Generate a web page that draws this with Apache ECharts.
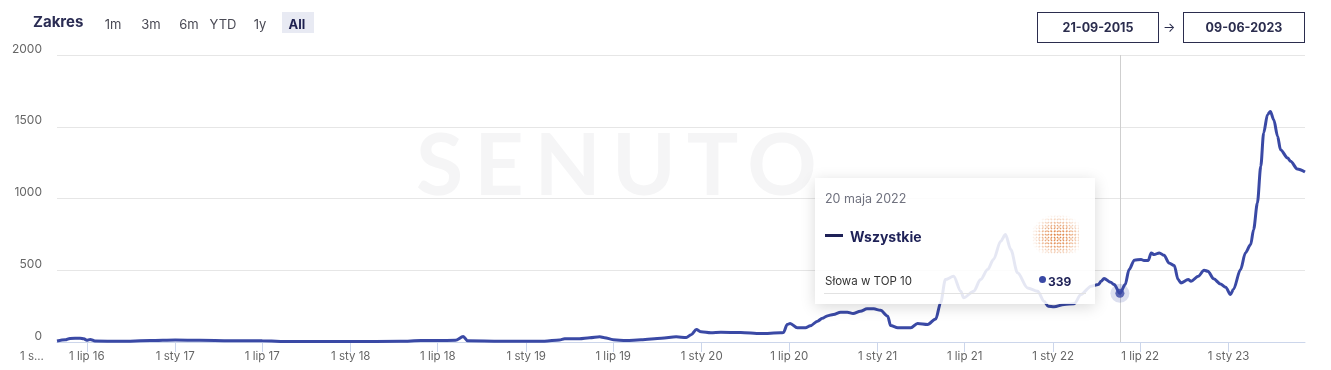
<!DOCTYPE html>
<html><head><meta charset="utf-8">
<script src="https://cdn.jsdelivr.net/npm/echarts@6/dist/echarts.min.js"></script>
<style>
html,body{margin:0;padding:0;background:#fff;}
#wrap{position:relative;width:1331px;height:370px;overflow:hidden;font-family:Inter,'Open Sans',sans-serif;}
#wm{position:absolute;left:416px;top:110px;font:700 86px Lato,sans-serif;letter-spacing:11px;color:#f5f5f6;z-index:0;white-space:nowrap;}
#chart{position:absolute;left:0;top:0;width:1331px;height:370px;z-index:1;}
.hd{position:absolute;z-index:3;white-space:nowrap;}
#zak{left:33px;top:12px;font-weight:700;font-size:15px;color:#2b2d54;}
.btn{top:15px;font-size:13px;color:#4a4a55;line-height:18px;transform:translateX(-50%);}
#allbox{left:282px;top:12px;width:32px;height:21px;background:#e8eaf3;z-index:2;position:absolute;}
.db{top:12px;width:120px;height:29px;border:1px solid #2b2d4e;box-sizing:content-box;text-align:center;line-height:29px;font-weight:700;font-size:12.5px;color:#2b2d4e;}
#arr{left:1163px;top:19px;font-size:13px;color:#2b2d4e;}
</style></head>
<body>
<div id="wrap">
  <div id="wm">SENUTO</div>
  <div id="chart"></div>
  <div id="hdr"></div>
</div>
<script>
// ---- data ----
const dates = ['2016-04-30','2016-05-17','2016-05-27','2016-06-17','2016-06-25','2016-07-01','2016-07-08','2016-07-18','2016-09-08','2016-11-10',
'2017-01-01','2017-02-21','2017-04-25','2017-07-01','2017-08-27','2018-01-01','2018-04-15','2018-05-27','2018-07-01','2018-08-07',
'2018-08-23','2018-09-01','2018-11-09','2019-01-01','2019-02-08','2019-03-11','2019-03-22','2019-04-22','2019-05-13','2019-06-03',
'2019-06-13','2019-07-01','2019-07-28','2019-08-28','2019-10-09','2019-11-09','2019-11-30','2019-12-10','2019-12-21','2019-12-31',
'2020-01-20','2020-02-10','2020-03-22','2020-05-03','2020-06-13','2020-06-19','2020-06-27','2020-07-03','2020-07-18','2020-08-04',
'2020-08-14','2020-08-29','2020-09-08','2020-09-18','2020-10-01','2020-10-16','2020-10-30','2020-11-11','2020-11-26','2020-12-10',
'2020-12-24','2021-01-07','2021-01-22','2021-01-28','2021-02-12','2021-03-11','2021-03-25','2021-04-15','2021-05-02','2021-05-12',
'2021-05-22','2021-06-08','2021-06-23','2021-06-29','2021-07-20','2021-08-03','2021-08-18','2021-08-30','2021-09-14','2021-09-24',
'2021-10-05','2021-10-19','2021-11-09','2021-11-30','2021-12-13','2021-12-22','2022-01-03','2022-01-24','2022-02-14','2022-02-28',
'2022-03-21','2022-04-05','2022-04-11','2022-04-17','2022-05-01','2022-05-08','2022-05-20','2022-05-31','2022-06-08','2022-06-19',
'2022-07-03','2022-07-09','2022-07-18','2022-07-24','2022-07-30','2022-08-10','2022-08-20','2022-08-30','2022-09-10','2022-09-18',
'2022-09-24','2022-10-09','2022-10-15','2022-10-30','2022-11-11','2022-11-19','2022-12-01','2022-12-15','2022-12-26','2023-01-05',
'2023-01-11','2023-01-26','2023-02-05','2023-02-16','2023-02-22','2023-03-02','2023-03-09','2023-03-15','2023-03-23','2023-03-29',
'2023-04-05','2023-04-13','2023-04-19','2023-05-04','2023-05-10','2023-05-24','2023-06-09'];
const values = [7,15,25,27,22,12,18,7,5,10,
14,12,9,8,4,3,5,10,10,12,
38,8,5,5,6,14,22,22,29,36,
30,16,10,16,26,36,31,50,87,71,
64,68,66,59,64,66,122,129,99,99,
113,145,165,182,192,208,208,198,214,231,
231,221,180,115,99,99,129,122,161,273,
435,458,354,308,354,435,505,575,702,749,
644,482,377,354,284,249,245,261,267,331,
389,400,423,442,416,400,339,400,505,570,
575,568,568,621,609,621,604,551,533,435,
412,435,423,458,500,493,440,405,382,331,
366,505,621,679,783,969,1224,1457,1584,1607,
1549,1433,1340,1282,1259,1206,1185];
const tickDates = ['2016-07-01','2017-01-01','2017-07-01','2018-01-01','2018-07-01','2019-01-01','2019-07-01',
'2020-01-01','2020-07-01','2021-01-01','2021-07-01','2022-01-01','2022-07-01','2023-01-01'];
const firstCutLabel = '1 s...';
const yMax = 2000, yStep = 500;
const monthShort = ['sty','lut','mar','kwi','maj','cze','lip','sie','wrz','paź','lis','gru'];
const monthLong = ['stycznia','lutego','marca','kwietnia','maja','czerwca','lipca','sierpnia','września','października','listopada','grudnia'];
const seriesName = 'Wszystkie';
const metricName = 'Słowa w TOP 10';
const hoverDate = '2022-05-20';
const rangeLabel = 'Zakres';
const rangeButtons = ['1m','3m','6m','YTD','1y','All'];
const rangeFrom = '21-09-2015', rangeTo = '09-06-2023';

// ---- header ----
const hdr = document.getElementById('hdr');
const btnX = [113,151,189,223,260,297];
let h = '<div id="allbox"></div><div class="hd" id="zak">'+rangeLabel+'</div>';
rangeButtons.forEach((b,i)=>{
  const isAll = i===rangeButtons.length-1;
  h += '<div class="hd btn" style="left:'+btnX[i]+'px;'+(isAll?'font-weight:700;color:#1f2150;':'')+'">'+b+'</div>';
});
h += '<div class="hd db" style="left:1037px;">'+rangeFrom+'</div>';
h += '<div class="hd" id="arr">&rarr;</div>';
h += '<div class="hd db" style="left:1183px;">'+rangeTo+'</div>';
hdr.innerHTML = h;

// ---- chart ----
function ts(s){const p=s.split('-').map(Number);return new Date(p[0],p[1]-1,p[2]).getTime();}
const seriesData = dates.map((d,i)=>[ts(d),values[i]]);
const hoverIdx = dates.indexOf(hoverDate);
const hoverPt = seriesData[hoverIdx];
const tickVals = tickDates.map(ts);
const LINE = '#3a49a5';

function tipHtml(){
  const d = new Date(hoverPt[0]);
  const label = d.getDate()+' '+monthLong[d.getMonth()]+' '+d.getFullYear();
  const speck = 'radial-gradient(circle, rgba(214,110,40,0.9) 0.7px, rgba(255,255,255,0) 1.1px) 0 0/3px 3px,'+
                'radial-gradient(circle, rgba(236,150,90,0.8) 0.6px, rgba(255,255,255,0) 1px) 1px 2px/4px 4px';
  return '<div style="position:relative;width:280px;height:126px;font-family:Inter,sans-serif;">'+
    '<div style="position:absolute;left:10px;top:10px;font-size:12.5px;color:#70727f;">'+label+'</div>'+
    '<div style="position:absolute;left:10px;top:56px;width:18px;height:3px;background:#1e2157;"></div>'+
    '<div style="position:absolute;left:35px;top:48px;font-size:14px;font-weight:700;color:#1e2157;">'+seriesName+'</div>'+
    '<div style="position:absolute;left:217px;top:37px;width:47px;height:39px;background:'+speck+';-webkit-mask-image:radial-gradient(ellipse at 55% 55%, #000 0%, rgba(0,0,0,0.7) 35%, rgba(0,0,0,0.15) 65%, rgba(0,0,0,0) 75%);mask-image:radial-gradient(ellipse at 55% 55%, #000 0%, rgba(0,0,0,0.7) 35%, rgba(0,0,0,0.15) 65%, rgba(0,0,0,0) 75%);"></div>'+
    '<div style="position:absolute;left:10px;top:93px;font-size:11.5px;color:#333;">'+metricName+'</div>'+
    '<div style="position:absolute;left:224px;top:98px;width:7px;height:7px;border-radius:50%;background:'+LINE+';"></div>'+
    '<div style="position:absolute;left:233px;top:93px;font-size:12px;font-weight:700;color:#1e2157;">'+hoverPt[1]+'</div>'+
    '<div style="position:absolute;left:9px;top:115px;width:262px;height:1px;background:#e2e2e2;"></div>'+
    '</div>';
}

const chart = echarts.init(document.getElementById('chart'), null, {renderer:'canvas'});
chart.setOption({
  animation:false,
  textStyle:{fontFamily:'Inter, sans-serif'},
  grid:{left:57,right:26,top:55,bottom:28},
  xAxis:{
    type:'value', min:seriesData[0][0], max:seriesData[seriesData.length-1][0],
    axisLine:{lineStyle:{color:'#ccd6eb',width:1}},
    axisTick:{show:true,length:10,lineStyle:{color:'#ccd6eb'},customValues:tickVals},
    axisLabel:{customValues:tickVals,color:'#666',fontSize:11.5,margin:9,
      formatter:function(v){const d=new Date(v);return '1 '+monthShort[d.getMonth()]+' '+String(d.getFullYear()).slice(2);}},
    splitLine:{show:false}
  },
  yAxis:{
    type:'value',min:0,max:yMax,interval:yStep,
    axisLine:{show:false},axisTick:{show:false},
    axisLabel:{color:'#666',fontSize:12,margin:15,verticalAlign:'bottom',formatter:function(v){return String(v);}},
    splitLine:{lineStyle:{color:'#e6e6e6',width:1}}
  },
  graphic:[{type:'text',left:20,top:351,style:{text:firstCutLabel,fill:'#666',font:'11.5px Inter, sans-serif'}}],
  tooltip:{
    trigger:'item',triggerOn:'none',alwaysShowContent:true,transitionDuration:0,
    position:[815,178],padding:0,borderWidth:0,
    backgroundColor:'rgba(255,255,255,0.87)',
    extraCssText:'box-shadow:0 3px 14px rgba(0,0,0,0.15);border-radius:0;',
    formatter:tipHtml
  },
  series:[
    {type:'line',name:seriesName,data:seriesData,showSymbol:false,smooth:0.3,smoothMonotone:'x',
     lineStyle:{width:3,color:LINE},itemStyle:{color:LINE},z:3,silent:true,
     markLine:{silent:true,symbol:'none',label:{show:false},z:1,
       lineStyle:{color:'#cfcfcf',width:1,type:'solid'},data:[{xAxis:hoverPt[0]}]}},
    {type:'scatter',data:[hoverPt],symbolSize:19,itemStyle:{color:'rgba(58,73,165,0.22)'},z:4,silent:true},
    {type:'scatter',data:[hoverPt],symbolSize:9,itemStyle:{color:LINE},z:5}
  ]
});
chart.dispatchAction({type:'showTip',seriesIndex:2,dataIndex:0});
</script>
</body></html>
